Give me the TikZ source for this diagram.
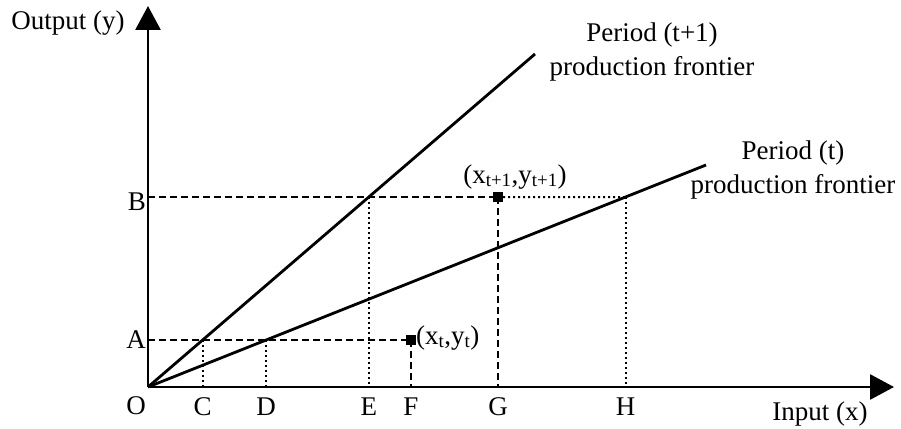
\documentclass[tikz,border=0pt]{standalone}
\usepackage{fontspec}
\setmainfont{Liberation Serif}
\usetikzlibrary{arrows.meta}
\begin{document}
\begin{tikzpicture}[x=1pt,y=-1pt,
  axis/.style={line width=2.8pt,-{Triangle[length=24pt,width=25pt]}},
  frontier/.style={line width=2.8pt},
  guide/.style={line width=2.2pt,dash pattern=on 7pt off 4pt},
  hint/.style={line width=2pt,dash pattern=on 2pt off 3pt},
  lbl/.style={font=\fontsize{27}{34}\selectfont,inner sep=0pt},
  obs/.style={fill,minimum size=10pt,inner sep=0pt}]
\useasboundingbox (0,0) rectangle (901,428);
% axes
\coordinate (O) at (148,387); \coordinate (ytop) at (148,6); \coordinate (xend) at (894,387);
\coordinate (yA) at (148,340); \coordinate (yB) at (148,197);
% frontiers
\coordinate (fU) at (535,54); \coordinate (fT) at (706,165);
% observations
\node[obs] (ptT) at (411,340) {}; \node[obs] (ptU) at (498,197) {};
% crossings of the frontiers with the output levels
\coordinate (C) at (intersection of O--fU and yA--ptT);
\coordinate (D) at (intersection of O--fT and yA--ptT);
\coordinate (E) at (intersection of O--fU and yB--ptU);
\coordinate (H) at (intersection of O--fT and yB--ptU);
\coordinate (xC) at (C |- O); \coordinate (xD) at (D |- O); \coordinate (xE) at (E |- O);
\coordinate (xF) at (ptT |- O); \coordinate (xG) at (ptU |- O); \coordinate (xH) at (H |- O);
% guides
\draw[guide] (yA) -- (ptT.center); \draw[guide] (ptT.center) -- (xF);
\draw[guide] (yB) -- (ptU.center); \draw[guide] (ptU.center) -- (xG);
\draw[hint] (ptU.center) -- (H);
\foreach \p in {C,D,E,H}{\draw[hint] (\p) -- (x\p);}
\draw[frontier] (O) -- (fU); \draw[frontier] (O) -- (fT);
\draw[axis] (O) -- (ytop); \draw[axis] (O) -- (xend);
\node[obs] at (ptT) {}; \node[obs] at (ptU) {};
% labels
\node[lbl,anchor=base] (lblOut) at (68,30) {Output (y)};
\node[lbl,anchor=base] (lblIn) at (820,420) {Input (x)};
\node[lbl,anchor=base east] (lblA) at (146,348) {A};
\node[lbl,anchor=base east] (lblB) at (146,210) {B};
\node[lbl,anchor=base] (lblO) at (136,414) {O};
\foreach \p in {C,D,E,F,G,H}{\node[lbl,anchor=base] (lbl\p) at ([yshift=-28pt]x\p) {\p};}
\node[lbl,anchor=base west] (lblT) at (416,344) {(x\textsubscript{t},y\textsubscript{t})};
\node[lbl,anchor=base] (lblU) at (515,183) {(x\textsubscript{t+1},y\textsubscript{t+1})};
\node[lbl,align=center] (capU) at (652,52) {Period (t+1)\\production frontier};
\node[lbl,align=center] (capT) at (793,170) {Period (t)\\production frontier};
\end{tikzpicture}
\end{document}
